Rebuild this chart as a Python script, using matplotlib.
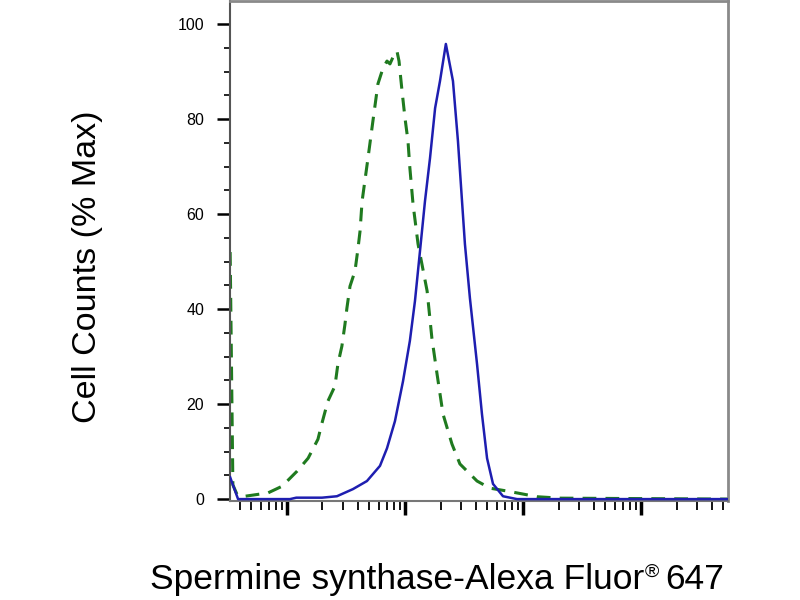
import matplotlib
matplotlib.use("Agg")
import matplotlib.pyplot as plt
from matplotlib.ticker import FixedLocator, NullFormatter, LogLocator

plt.rcParams['font.family'] = ['Liberation Sans', 'DejaVu Sans']

# Sample (blue solid)
sample_x = [3.3, 3.85, 10.6, 12.0, 19.8, 26.5, 36.2, 47.6, 61.4, 70.4, 82.2, 96.2, 110, 121.5,
            134, 147.7, 163, 180, 198, 222, 255, 281, 322, 355, 408, 449, 496, 557, 677, 890, 54600]
sample_y = [4.6, 0.0, 0.0, 0.3, 0.3, 0.6, 2.1, 3.8, 7.0, 10.7, 16.4, 24.8, 33.3, 41.7,
            52.2, 62.7, 71.8, 82.3, 88.0, 95.8, 88.0, 75.4, 53.7, 42.3, 28.4, 17.9, 8.6, 3.2, 0.6, 0.0, 0.0]

# Control (green dashed)
control_x = [3.3, 3.48, 3.77, 4.4, 6.9, 9.08, 12.2, 15.1, 18.3, 19.8, 22.2, 25.5, 27.0, 29.2, 31.0,
             32.2, 34.2, 37.7, 40.0, 41.6, 43.3, 48.6, 53.5, 59, 65.1, 70.4, 74.6, 80.7, 85.5, 89,
             94.4, 100, 106, 110, 117, 129, 154, 169, 187, 210, 250, 292, 408, 525, 731, 890, 1315,
             2060, 54600]
control_y = [52.0, 3.0, 1.0, 0.6, 1.3, 2.7, 5.9, 8.6, 12.6, 16.0, 20.6, 23.8, 28.4, 32.2, 36.8,
             40.2, 44.8, 48.0, 52.8, 56.4, 62.7, 71.8, 79.6, 87.4, 90.7, 92.2, 91.6, 93.5, 94.3, 92.2,
             85.9, 80.2, 75.4, 69.7, 62.1, 53.7, 43.8, 33.9, 26.3, 17.9, 11.6, 7.4, 3.8, 2.3, 1.7, 1.3, 0.5,
             0.2, 0.0]

y_ticks = [0, 20, 40, 60, 80, 100]
y_tick_labels = ['0', '20', '40', '60', '80', '100']
x_label_main = 'Spermine synthase-Alexa Fluor'
x_label_sup = '®'
x_label_end = '647'
y_label = 'Cell Counts (% Max)'

fig = plt.figure(figsize=(8, 6), dpi=100)
ax = fig.add_axes([0.2875, 0.165, 0.6225, 0.833])

ax.plot(control_x, control_y, color='#1f7a1f', lw=2.2, linestyle=(0, (4.5, 3)), zorder=2)
ax.plot(sample_x, sample_y, color='#1e1eb0', lw=1.8, zorder=3)

ax.set_xscale('log')
ax.set_xlim(3.29, 54600)
ax.set_ylim(-0.4, 104.8)

ax.xaxis.set_major_locator(FixedLocator([10, 100, 1000, 10000]))
ax.xaxis.set_minor_locator(LogLocator(base=10, subs=(2, 3, 4, 5, 6, 7, 8, 9), numticks=20))
ax.xaxis.set_major_formatter(NullFormatter())
ax.xaxis.set_minor_formatter(NullFormatter())

ax.set_yticks(y_ticks)
ax.set_yticklabels(y_tick_labels)
ax.yaxis.set_minor_locator(FixedLocator(list(range(0, 105, 5))))

ax.tick_params(axis='x', which='major', direction='out', length=10, width=2.5, color='black')
ax.tick_params(axis='x', which='minor', direction='out', length=6.5, width=1.3, color='black')
ax.tick_params(axis='y', which='major', direction='out', length=9.5, width=1.8, color='black',
               labelsize=11.5, pad=9)
ax.tick_params(axis='y', which='minor', direction='out', length=4, width=1.2, color='black')

for s in ['top', 'right']:
    ax.spines[s].set_color('#8a8a8a')
    ax.spines[s].set_linewidth(2.0)
ax.spines['left'].set_color('#555555')
ax.spines['left'].set_linewidth(1.5)
ax.spines['bottom'].set_color('#777777')
ax.spines['bottom'].set_linewidth(1.5)

fig.text(0.11, 0.555, y_label, rotation=90, ha='center', va='center', fontsize=24.5)

# x label assembled from pieces so the registered sign is a small superscript
renderer = fig.canvas.get_renderer()
fs = 25.5
base_y = 0.018
t1 = fig.text(0, base_y, x_label_main, ha='left', va='baseline', fontsize=fs)
t2 = fig.text(0, base_y, x_label_sup, ha='left', va='baseline', fontsize=fs * 0.55)
t3 = fig.text(0, base_y, x_label_end, ha='left', va='baseline', fontsize=fs)
w1 = t1.get_window_extent(renderer).width
w2 = t2.get_window_extent(renderer).width
w3 = t3.get_window_extent(renderer).width
gap = 7
total = w1 + w2 + gap + w3
x0 = 437 - total / 2
t1.set_position((x0 / 800, base_y))
t2.set_position(((x0 + w1 + 1) / 800, base_y + 12 / 600))
t3.set_position(((x0 + w1 + w2 + gap) / 800, base_y))

fig.savefig('out.png', dpi=100)
